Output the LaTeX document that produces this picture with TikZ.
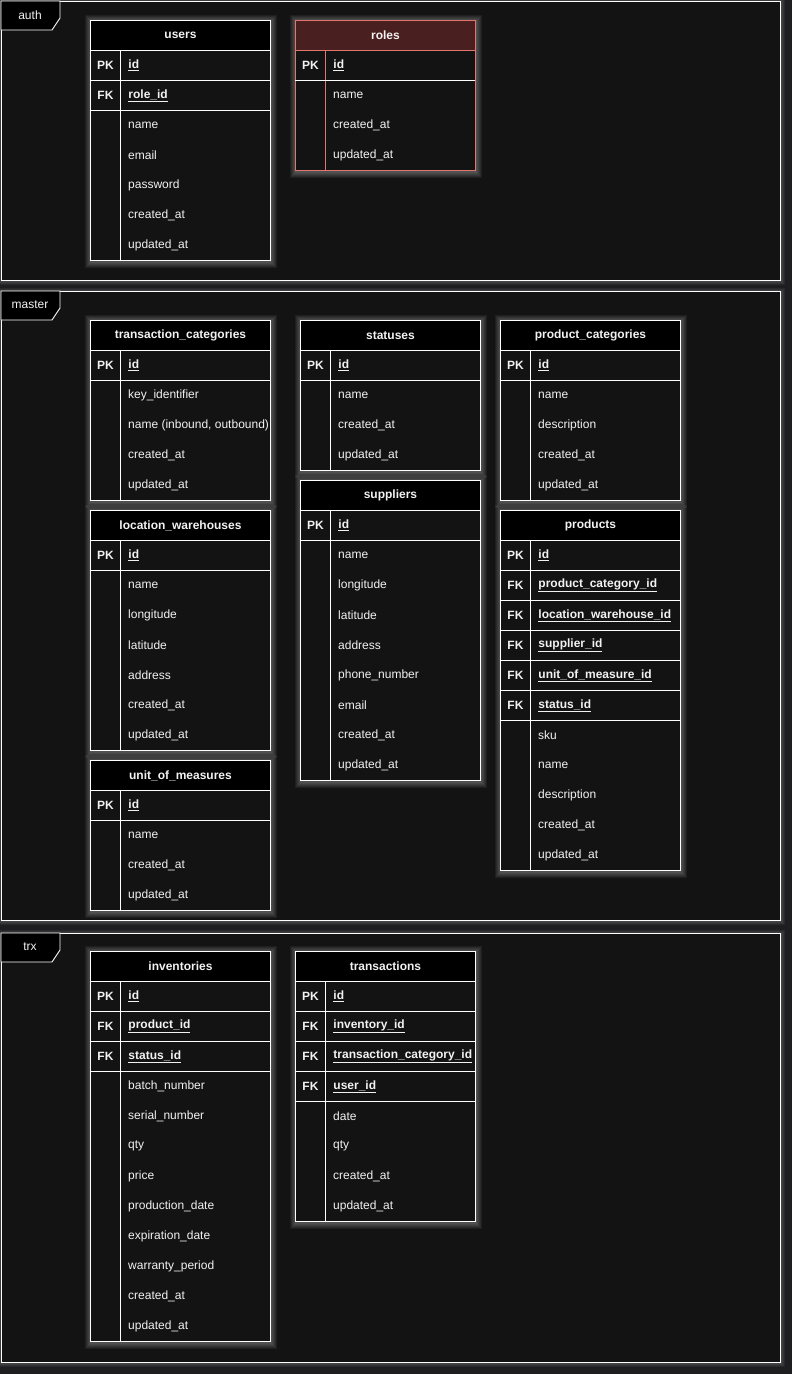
\documentclass[tikz,border=0pt]{standalone}
\usepackage{fontspec}
\setmainfont{Liberation Sans}
\usepackage{tikz}
\usetikzlibrary{positioning}

\definecolor{canvas}{HTML}{1E1E20}
\definecolor{panel}{HTML}{131313}
\definecolor{ink}{HTML}{F2F2F2}
\definecolor{rolefill}{HTML}{4A1F1F}
\definecolor{roleline}{HTML}{E0766E}

\pgfdeclarelayer{bg}
\pgfdeclarelayer{glow}
\pgfsetlayers{bg,glow,main}

\tikzset{
  cell/.style={draw=white, fill=panel, line width=0.9pt, inner sep=0pt, minimum height=30pt, text=ink, font=\fontsize{12}{14}\selectfont},
  headcell/.style={cell, fill=black, minimum width=180pt, font=\fontsize{12}{14}\selectfont\bfseries},
  keycell/.style={cell, minimum width=30pt, font=\fontsize{12}{14}\selectfont\bfseries},
  keyfield/.style={cell, text width=134pt, inner xsep=8pt, align=left, font=\fontsize{12}{14}\selectfont\bfseries},
  plainfield/.style={inner sep=0pt, text=ink, font=\fontsize{12}{14}\selectfont, anchor=west},
  tabline/.style={draw=white, line width=0.9pt},
  sepline/.style={draw=white, line width=0.9pt},
  glowbox/.style={fill=white, fill opacity=0.05, draw=none},
  panelbox/.style={draw=white, fill=panel, line width=0.9pt, inner sep=0pt, minimum width=779pt},
  grouplabel/.style={text=ink, font=\fontsize{12}{14}\selectfont},
  rolestyle/.style={cell/.append style={draw=roleline}, headcell/.append style={fill=rolefill}, tabline/.append style={draw=roleline}},
}

% group frame: id, top, bottom, label
\newcommand{\ergroup}[4]{%
  \begin{pgfonlayer}{bg}
    \foreach \gw in {1,...,4}
      \fill[glowbox] (2-\gw,#2+1-\gw) rectangle (780+\gw+1,#3+\gw+1);
    \node[panelbox, anchor=north west, minimum height=#3-#2] (#1) at (1,#2) {};
    \draw[tabline, fill=black] (#1.north west) -- ++(59,0) -- ++(0,17) -- ++(-8,12) -- ++(-51,0) -- cycle;
    \node[grouplabel] (#1-lbl) at (30,#2+14) {#4};
  \end{pgfonlayer}
}

% table: [style] id, left, top, title, keys, fields
\newcommand{\ertable}[7][]{%
  \begin{scope}[#1]
    \node[headcell, anchor=north west] (#2) at (#3,#4) {#5};
    \foreach \kk/\ff [count=\i] in {#6} {
      \node[keycell, anchor=north west] (#2-k\i) at (#3,#4+30*\i) {\kk};
      \node[keyfield, anchor=north west] (#2-f\i) at (#3+30,#4+30*\i) {\underline{\ff}};
      \xdef\nkeys{\i}
    }
    \foreach \ff [count=\j] in {#7} {
      \node[plainfield] (#2-p\j) at (#3+38,#4+30*\nkeys+30*\j+15) {\ff};
      \xdef\nplain{\j}
    }
    \draw[tabline] (#3,#4+30+30*\nkeys) rectangle (#3+180,#4+30+30*\nkeys+30*\nplain);
    \draw[tabline] (#3+30,#4+30+30*\nkeys) -- (#3+30,#4+30+30*\nkeys+30*\nplain);
    \draw[sepline] (#3,#4+30+30*\nkeys) -- (#3+180,#4+30+30*\nkeys);
    \begin{pgfonlayer}{glow}
      \foreach \gw in {1,...,6}
        \fill[glowbox] (#3+1-\gw,#4+1-\gw) rectangle (#3+180+\gw+1,#4+30+30*\nkeys+30*\nplain+\gw+2);
      \fill[panel] (#3,#4) rectangle (#3+180,#4+30+30*\nkeys+30*\nplain);
    \end{pgfonlayer}
  \end{scope}
}

\begin{document}
\begin{tikzpicture}[x=1pt,y=-1pt]
\begin{pgfonlayer}{bg}
  \fill[canvas] (0,0) rectangle (792,1374);
\end{pgfonlayer}
\useasboundingbox (0,0) rectangle (792,1374);

\ergroup{auth}{1}{280}{auth}
\ergroup{master}{291}{920}{master}
\ergroup{trx}{933}{1362}{trx}

% auth
\ertable{users}{90}{20}{users}{PK/id, FK/role\_id}{name, email, password, created\_at, updated\_at}
\ertable[rolestyle]{roles}{295}{20}{roles}{PK/id}{name, created\_at, updated\_at}

% master
\ertable{tcat}{90}{320}{transaction\_categories}{PK/id}{key\_identifier, {name (inbound, outbound)}, created\_at, updated\_at}
\ertable{lwh}{90}{510}{location\_warehouses}{PK/id}{name, longitude, latitude, address, created\_at, updated\_at}
\ertable{uom}{90}{760}{unit\_of\_measures}{PK/id}{name, created\_at, updated\_at}
\ertable{statuses}{300}{320}{statuses}{PK/id}{name, created\_at, updated\_at}
\ertable{suppliers}{300}{480}{suppliers}{PK/id}{name, longitude, latitude, address, phone\_number, email, created\_at, updated\_at}
\ertable{pcat}{500}{320}{product\_categories}{PK/id}{name, description, created\_at, updated\_at}
\ertable{products}{500}{510}{products}{PK/id, FK/product\_category\_id, FK/location\_warehouse\_id, FK/supplier\_id, FK/unit\_of\_measure\_id, FK/status\_id}{sku, name, description, created\_at, updated\_at}

% trx
\ertable{inventories}{90}{951}{inventories}{PK/id, FK/product\_id, FK/status\_id}{batch\_number, serial\_number, qty, price, production\_date, expiration\_date, warranty\_period, created\_at, updated\_at}
\ertable{transactions}{295}{951}{transactions}{PK/id, FK/inventory\_id, FK/transaction\_category\_id, FK/user\_id}{date, qty, created\_at, updated\_at}
\end{tikzpicture}
\end{document}
